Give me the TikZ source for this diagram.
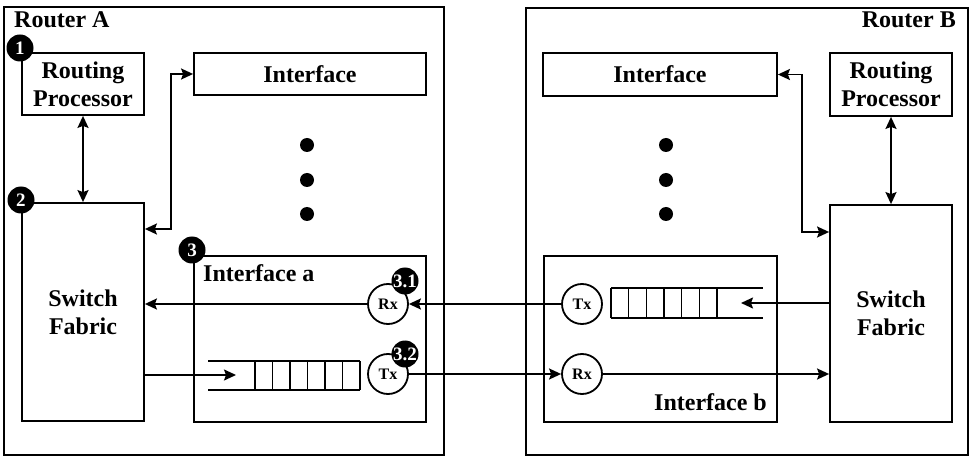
\documentclass[tikz,border=0pt]{standalone}
\usepackage{fontspec}
\setmainfont{Liberation Serif}
\usetikzlibrary{arrows.meta,calc}
\begin{document}
\begin{tikzpicture}[x=1pt,y=-1pt,
  box/.style={draw,line width=1.8pt,inner sep=0pt,align=center,
    font=\bfseries\fontsize{24}{28}\selectfont},
  lbl/.style={inner sep=0pt,font=\bfseries\fontsize{24}{28}\selectfont},
  port/.style={draw,circle,line width=1.8pt,fill=white,minimum size=40pt,inner sep=0pt,
    font=\bfseries\fontsize{16}{18}\selectfont},
  badge/.style={circle,fill=black,text=white,minimum size=27pt,inner sep=0pt,
    font=\bfseries\fontsize{19}{20}\selectfont},
  dot/.style={circle,fill=black,minimum size=14pt,inner sep=0pt},
  link/.style={line width=1.8pt},
  arr/.style={link,-{Stealth[length=12pt,width=11pt,inset=2pt]}},
  darr/.style={link,{Stealth[length=12pt,width=11pt,inset=2pt]}-{Stealth[length=12pt,width=11pt,inset=2pt]}},
  qline/.style={line width=1.5pt}]
\useasboundingbox (0,0) rectangle (972,462);
% Routers
\node[box,minimum width=440pt,minimum height=448pt] (RA) at (224,231) {};
\node[box,minimum width=442pt,minimum height=447pt] (RB) at (747,231.5) {};
\node[lbl,anchor=base west] (RAl) at (14,28) {Router A};
\node[lbl,anchor=base east] (RBl) at (956,28) {Router B};
% Router A contents
\node[box,minimum width=122pt,minimum height=62pt] (RPA) at (83,84) {Routing\\Processor};
\node[box,minimum width=232pt,minimum height=42pt] (IFA) at (310,74) {Interface};
\node[box,minimum width=122pt,minimum height=218pt] (SFA) at (83,312) {Switch\\Fabric};
\node[box,minimum width=232pt,minimum height=166pt] (IA) at (310,339) {};
\node[lbl,anchor=base west] (IAl) at (203,282) {Interface a};
\node[dot] (dA1) at (307,145) {};
\node[dot] (dA2) at (307,180) {};
\node[dot] (dA3) at (307,214) {};
\node[port] (RxA) at (388,304) {Rx};
\node[port] (TxA) at (388,374) {Tx};
% queue A
\draw[qline] (208,361) -- (360,361) (208,390) -- (360,390);
\foreach \k in {0,...,6}{\draw[qline] ({255+17.5*\k},361) -- ({255+17.5*\k},390);}
% Router B contents
\node[box,minimum width=122pt,minimum height=63pt] (RPB) at (891,84.5) {Routing\\Processor};
\node[box,minimum width=234pt,minimum height=43pt] (IFB) at (660,74.5) {Interface};
\node[box,minimum width=122pt,minimum height=217pt] (SFB) at (891,313.5) {Switch\\Fabric};
\node[box,minimum width=233pt,minimum height=166pt] (IB) at (660.5,339) {};
\node[lbl,anchor=base east] (IBl) at (767,410) {Interface b};
\node[dot] (dB1) at (666,145) {};
\node[dot] (dB2) at (666,180) {};
\node[dot] (dB3) at (666,214) {};
\node[port] (TxB) at (582,304) {Tx};
\node[port] (RxB) at (582,374) {Rx};
% queue B
\draw[qline] (611,288) -- (763,288) (611,318) -- (763,318);
\foreach \k in {0,...,6}{\draw[qline] ({611+17.67*\k},288) -- ({611+17.67*\k},318);}
% badges
\node[badge] (b1) at (20,48) {1};
\node[badge] (b2) at (21,200) {2};
\node[badge] (b3) at (192,250) {3};
\node[badge] (b31) at (405,281) {3.1};
\node[badge] (b32) at (405,354) {3.2};
% connectors Router A
\draw[darr] (RPA.south) -- (SFA.north);
\coordinate (bendA) at (171,229);
\draw[darr] (SFA.east |- bendA) -- (bendA) |- (IFA.west);
\draw[arr] (RxA.west) -- (SFA.east |- RxA.west);
\coordinate (qAin) at (236,375);
\draw[arr] (SFA.east |- qAin) -- (qAin);
% links between routers
\draw[arr] (TxA.east) -- (RxB.west);
\draw[arr] (TxB.west) -- (RxA.east);
% connectors Router B
\draw[darr] (RPB.south) -- (SFB.north);
\coordinate (bendB) at (802,232);
\draw[darr] (IFB.east) -| (bendB) -- (SFB.west |- bendB);
\coordinate (qBin) at (741,303);
\draw[arr] (SFB.west |- qBin) -- (qBin);
\draw[arr] (RxB.east) -- (SFB.west |- RxB.east);
\end{tikzpicture}
\end{document}
